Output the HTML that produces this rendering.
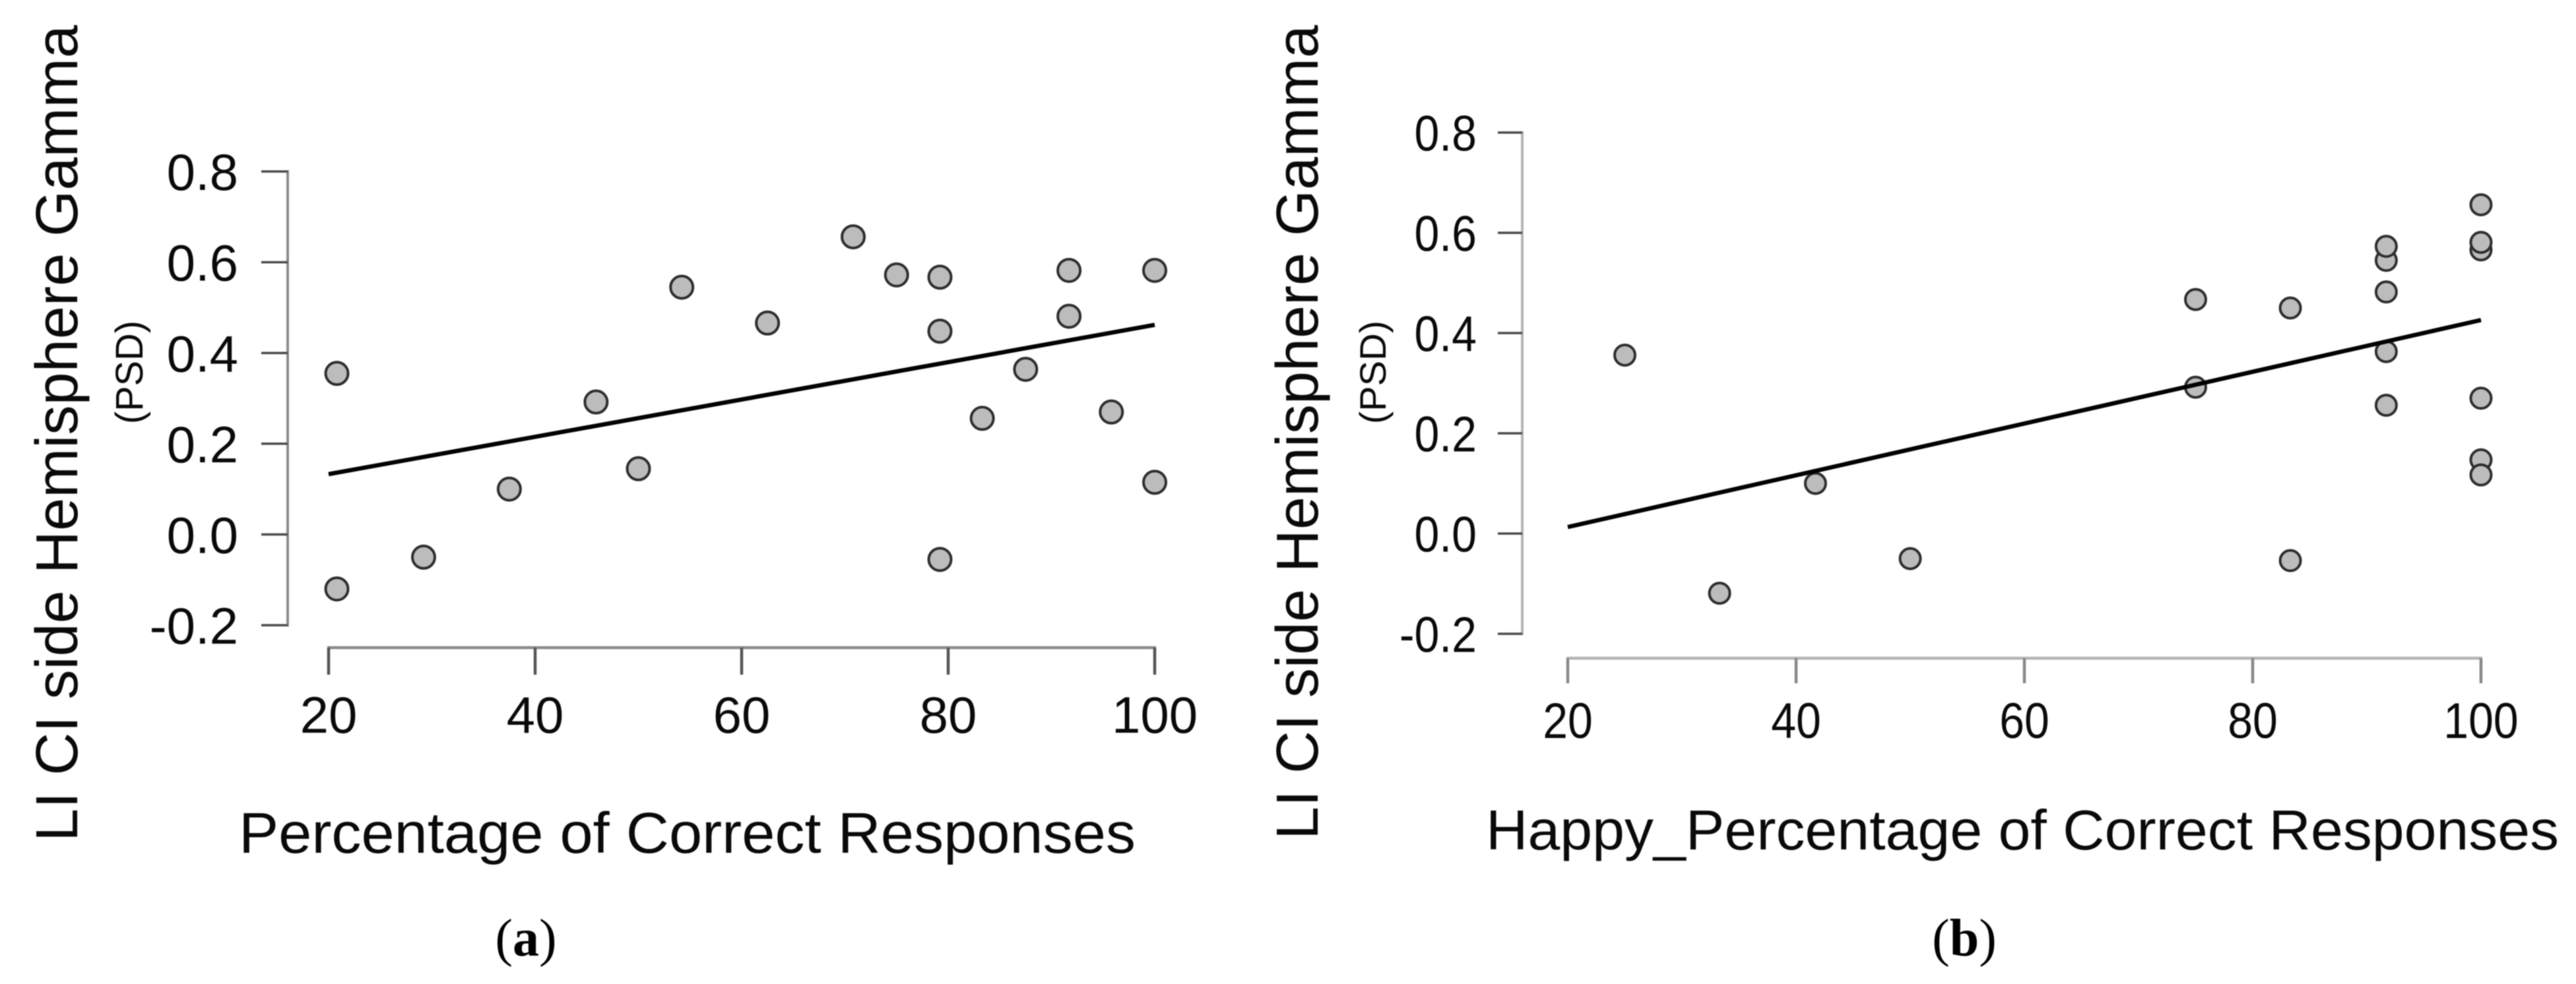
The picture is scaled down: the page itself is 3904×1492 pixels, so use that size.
<!DOCTYPE html>
<html>
<head>
<meta charset="utf-8">
<style>
html,body{margin:0;padding:0;background:#fff;}
svg{display:block;filter:blur(0.7px);}
text{font-family:"Liberation Sans",sans-serif;fill:#0a0a0a;}
.cap{font-family:"Liberation Serif",serif;font-size:80px;fill:#000;}
.cap tspan.b{font-weight:bold;}
</style>
</head>
<body>
<svg id="fig" width="3904" height="1492" viewBox="0 0 3904 1492" xmlns="http://www.w3.org/2000/svg">
<rect x="0" y="0" width="3904" height="1492" fill="#ffffff"/>
<g id="panel-a">
<text transform="translate(117,1276) rotate(-90)" font-size="90" textLength="1238" lengthAdjust="spacingAndGlyphs">LI CI side Hemisphere Gamma</text>
<text transform="translate(216,643) rotate(-90)" font-size="58" textLength="157" lengthAdjust="spacingAndGlyphs">(PSD)</text>
<text x="362" y="1293" font-size="87" textLength="1359" lengthAdjust="spacingAndGlyphs">Percentage of Correct Responses</text>
</g>
<g id="panel-b">
<text transform="translate(1997,1273) rotate(-90)" font-size="90" textLength="1235" lengthAdjust="spacingAndGlyphs">LI CI side Hemisphere Gamma</text>
<text transform="translate(2100,643) rotate(-90)" font-size="56" textLength="157" lengthAdjust="spacingAndGlyphs">(PSD)</text>
<text x="2252" y="1288" font-size="85" textLength="1626" lengthAdjust="spacingAndGlyphs">Happy_Percentage of Correct Responses</text>
</g>
<text class="cap" x="797" y="1449" text-anchor="middle">(<tspan class="b">a</tspan>)</text>
<text class="cap" x="2977" y="1449" text-anchor="middle">(<tspan class="b">b</tspan>)</text>
</svg>
<script>
const xTicks = [20, 40, 60, 80, 100];
const yTicks = [-0.2, 0, 0.2, 0.4, 0.6, 0.8];
const yTickLabels = ["-0.2", "0.0", "0.2", "0.4", "0.6", "0.8"];

const aPercent = [20.8, 20.8, 29.2, 37.5, 45.9, 50, 54.2, 62.5, 70.8, 75, 79.2, 79.2, 79.2, 83.3, 87.5, 91.7, 91.7, 95.8, 100, 100];
const aGamma = [0.355, -0.12, -0.05, 0.1, 0.292, 0.145, 0.545, 0.466, 0.656, 0.572, 0.567, 0.448, -0.055, 0.256, 0.364, 0.582, 0.481, 0.27, 0.582, 0.115];
const aFitX = [20, 100];
const aFitY = [0.133, 0.462];

const bPercent = [25, 33.3, 41.7, 50, 75, 75, 83.3, 83.3, 91.7, 91.7, 91.7, 91.7, 91.7, 100, 100, 100, 100, 100, 100];
const bGamma = [0.356, -0.119, 0.1, -0.05, 0.467, 0.292, 0.45, -0.054, 0.545, 0.573, 0.482, 0.363, 0.256, 0.656, 0.566, 0.581, 0.27, 0.147, 0.117];
const bFitX = [20, 100];
const bFitY = [0.013, 0.426];

const NS = 'http://www.w3.org/2000/svg';
function make(parent, tag, attrs, txt) {
  const el = document.createElementNS(NS, tag);
  for (const k in attrs) el.setAttribute(k, attrs[k]);
  if (txt !== undefined) el.textContent = txt;
  parent.appendChild(el);
  return el;
}
function drawPanel(host, tag, xs, ys, fitX, fitY, c) {
  const sx = v => c.x0 + (v - 20) * (c.x1 - c.x0) / 80;
  const sy = v => c.y0 + (v + 0.2) * (c.y1 - c.y0) / 1.0;
  const g = make(host, 'g', {});
  
  

  const yAxis = make(g, 'line', {x1: c.axisX, x2: c.axisX, y1: sy(-0.2) + 2, y2: sy(0.8) - 2, stroke: c.axisColor, 'stroke-width': 4});
  
  
  const xAxis = make(g, 'line', {x1: sx(20) - 2, x2: sx(100) + 2, y1: c.axisY, y2: c.axisY, stroke: c.axisColor, 'stroke-width': 4.5});
  
  

  yTicks.forEach((v, i) => {
    const t = make(g, 'line', {x1: c.tickL, x2: c.axisX, y1: sy(v), y2: sy(v), stroke: '#4a4a4a', 'stroke-width': 3.5});
    
    
    const l = make(g, 'text', {transform: 'translate(' + c.yLabelX + ',' + (sy(v) + c.font * 0.36 * c.stretch) + ') scale(1,' + c.stretch + ')', 'text-anchor': 'end', 'font-size': c.font}, yTickLabels[i]);
    
    
  });
  xTicks.forEach(v => {
    const t = make(g, 'line', {x1: sx(v), x2: sx(v), y1: c.axisY, y2: c.tickB, stroke: c.xTickColor, 'stroke-width': 4.5});
    
    
    const l = make(g, 'text', {transform: 'translate(' + sx(v) + ',' + c.xLabelY + ') scale(1,' + c.stretch + ')', 'text-anchor': 'middle', 'font-size': c.font}, String(v));
    
    
  });

  xs.forEach((v, i) => {
    const p = make(g, 'circle', {cx: sx(v), cy: sy(ys[i]), r: c.r, fill: '#bcbcbc', stroke: '#2e2e2e', 'stroke-width': 4});
    
    
  });

  const fit = make(g, 'line', {x1: sx(fitX[0]), y1: sy(fitY[0]), x2: sx(fitX[1]), y2: sy(fitY[1]), stroke: '#000', 'stroke-width': 6.5});
  
  
}
drawPanel(document.getElementById('panel-a'), 'a', aPercent, aGamma, aFitX, aFitY,
  {x0: 498, x1: 1750, y0: 948, y1: 260, axisX: 436, axisY: 982, tickL: 396, tickB: 1023, yLabelX: 361, xLabelY: 1111, font: 78, r: 17, stretch: 1, axisColor: '#8c8c8c', xTickColor: '#555'});
drawPanel(document.getElementById('panel-b'), 'b', bPercent, bGamma, bFitX, bFitY,
  {x0: 2376, x1: 3760, y0: 961, y1: 201, axisX: 2307, axisY: 998, tickL: 2270, tickB: 1036, yLabelX: 2238, xLabelY: 1119, font: 68, r: 15.5, stretch: 1.12, axisColor: '#b4b4b4', xTickColor: '#888'});
</script>
</body>
</html>
